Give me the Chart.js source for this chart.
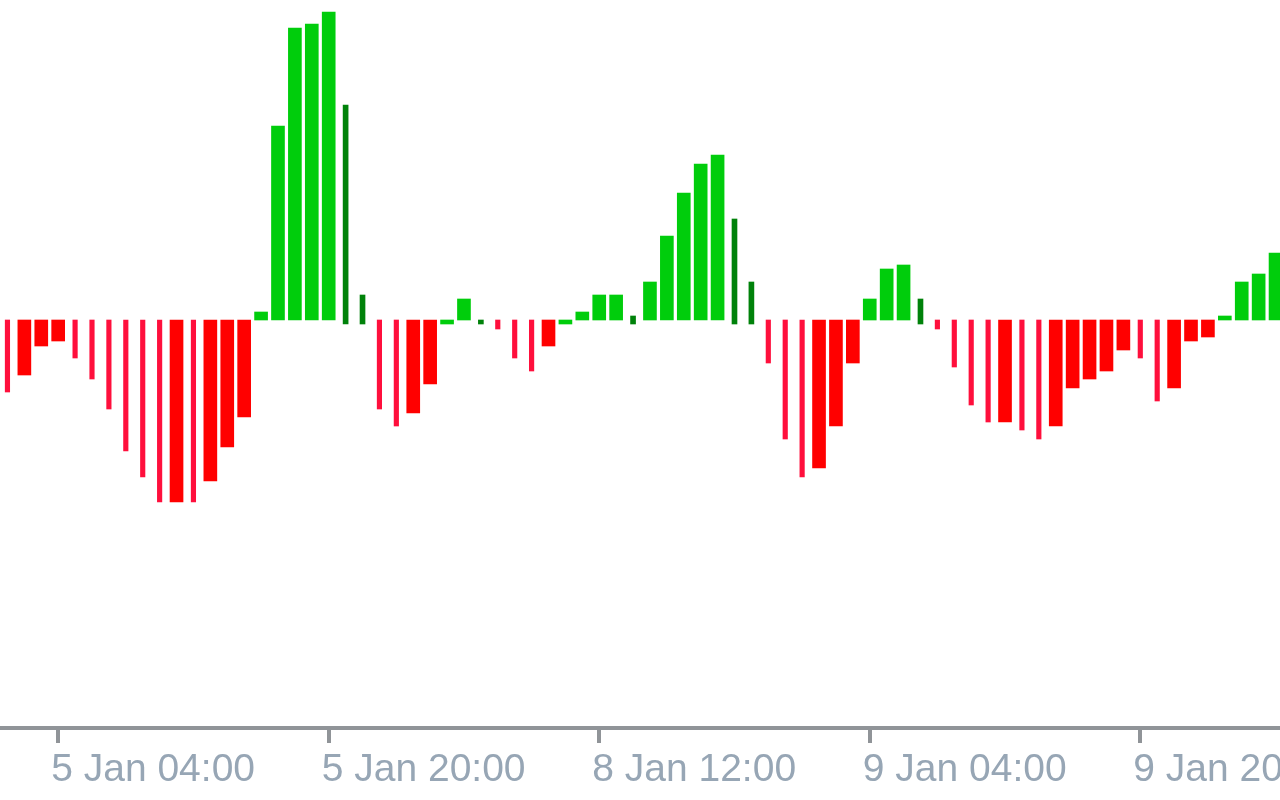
<!DOCTYPE html>
<html>
<head>
<meta charset="utf-8">
<script src="https://cdn.jsdelivr.net/npm/chart.js@4.4.1/dist/chart.umd.min.js"></script>
<style>
  html, body { margin: 0; padding: 0; background: #ffffff; overflow: hidden; }
  #wrap { position: absolute; left: -1px; top: 0; width: 1285px; height: 800px; }
</style>
</head>
<body>
<div id="wrap"><canvas id="histo" width="1285" height="800"></canvas></div>
<script>
// Hourly bars, 5 Jan 01:00 .. 10 Jan 04:00 (weekend gap after 5 Jan 23:00)
const categories = [
  '5 Jan 01:00', '5 Jan 02:00', '5 Jan 03:00', '5 Jan 04:00', '5 Jan 05:00', '5 Jan 06:00',
  '5 Jan 07:00', '5 Jan 08:00', '5 Jan 09:00', '5 Jan 10:00', '5 Jan 11:00', '5 Jan 12:00',
  '5 Jan 13:00', '5 Jan 14:00', '5 Jan 15:00', '5 Jan 16:00', '5 Jan 17:00', '5 Jan 18:00',
  '5 Jan 19:00', '5 Jan 20:00', '5 Jan 21:00', '5 Jan 22:00', '5 Jan 23:00', '8 Jan 00:00',
  '8 Jan 01:00', '8 Jan 02:00', '8 Jan 03:00', '8 Jan 04:00', '8 Jan 05:00', '8 Jan 06:00',
  '8 Jan 07:00', '8 Jan 08:00', '8 Jan 09:00', '8 Jan 10:00', '8 Jan 11:00', '8 Jan 12:00',
  '8 Jan 13:00', '8 Jan 14:00', '8 Jan 15:00', '8 Jan 16:00', '8 Jan 17:00', '8 Jan 18:00',
  '8 Jan 19:00', '8 Jan 20:00', '8 Jan 21:00', '8 Jan 22:00', '8 Jan 23:00', '9 Jan 00:00',
  '9 Jan 01:00', '9 Jan 02:00', '9 Jan 03:00', '9 Jan 04:00', '9 Jan 05:00', '9 Jan 06:00',
  '9 Jan 07:00', '9 Jan 08:00', '9 Jan 09:00', '9 Jan 10:00', '9 Jan 11:00', '9 Jan 12:00',
  '9 Jan 13:00', '9 Jan 14:00', '9 Jan 15:00', '9 Jan 16:00', '9 Jan 17:00', '9 Jan 18:00',
  '9 Jan 19:00', '9 Jan 20:00', '9 Jan 21:00', '9 Jan 22:00', '9 Jan 23:00', '10 Jan 00:00',
  '10 Jan 01:00', '10 Jan 02:00', '10 Jan 03:00', '10 Jan 04:00'
];

// Histogram values (arbitrary units)
const histValues = [
  -72, -55, -26, -21, -38, -59, -89, -131, -157, -182, -182, -182, -161, -127, -97, 8,
  194, 292, 296, 308, 215, 25, -89, -106, -93, -64, -4, 21, 0, -9, -38, -51,
  -26, -4, 8, 25, 25, 4, 38, 84, 127, 156, 165, 101, 38, -43, -119, -157,
  -148, -106, -43, 21, 51, 55, 21, -9, -47, -85, -102, -102, -110, -119, -106, -68,
  -59, -51, -30, -38, -81, -68, -21, -17, 4, 38, 46, 67
];

// Bar state: G = up strong, g = up weak, R = down strong, r = down weak
const histState = [
  'r', 'R', 'R', 'R', 'r', 'r', 'r', 'r', 'r', 'r', 'R', 'r', 'R', 'R', 'R', 'G',
  'G', 'G', 'G', 'G', 'g', 'g', 'r', 'r', 'R', 'R', 'G', 'G', 'g', 'r', 'r', 'r',
  'R', 'G', 'G', 'G', 'G', 'g', 'G', 'G', 'G', 'G', 'G', 'g', 'g', 'r', 'r', 'r',
  'R', 'R', 'R', 'G', 'G', 'G', 'g', 'r', 'r', 'r', 'r', 'R', 'r', 'r', 'R', 'R',
  'R', 'R', 'R', 'r', 'r', 'R', 'R', 'R', 'G', 'G', 'G', 'G'
];

const tickLabels = ['5 Jan 04:00', '5 Jan 20:00', '8 Jan 12:00', '9 Jan 04:00', '9 Jan 20:00'];

function pick(code) {
  return histValues.map((v, i) => (histState[i] === code ? v : null));
}

const axisGray = '#909498';

const datasets = [
  { label: 'up', data: pick('G'), backgroundColor: '#00cd0c', barThickness: 13 },
  { label: 'up weak', data: pick('g'), backgroundColor: '#00820a', barThickness: 5, base: -4 },
  { label: 'down', data: pick('R'), backgroundColor: '#ff0000', barThickness: 13 },
  { label: 'down weak', data: pick('r'), backgroundColor: '#ff0f3c', barThickness: 4.5 }
];

new Chart(document.getElementById('histo'), {
  type: 'bar',
  data: { labels: categories, datasets: datasets },
  options: {
    responsive: false,
    devicePixelRatio: 1,
    animation: false,
    layout: { padding: 0 },
    datasets: { bar: { grouped: false, borderWidth: 0, skipNull: true } },
    plugins: { legend: { display: false }, tooltip: { enabled: false } },
    scales: {
      x: {
        offset: true,
        afterBuildTicks: function(axis) {
          axis.ticks = axis.ticks.filter(t => tickLabels.includes(categories[t.value]));
        },
        afterFit: function(axis) {
          axis.height = 72;
          axis.paddingLeft = 0;
          axis.paddingRight = 0;
        },
        border: { display: true, color: axisGray, width: 4 },
        grid: {
          offset: false,
          drawOnChartArea: false,
          drawTicks: true,
          tickLength: 15,
          color: axisGray,
          lineWidth: 4
        },
        ticks: {
          autoSkip: false,
          maxRotation: 0,
          minRotation: 0,
          align: 'start',
          labelOffset: -7,
          padding: 4,
          color: '#97a6b5',
          font: { family: '"Liberation Sans", Arial, sans-serif', size: 39 }
        }
      },
      y: {
        display: false,
        min: -408,
        max: 320
      }
    }
  }
});
</script>
</body>
</html>
